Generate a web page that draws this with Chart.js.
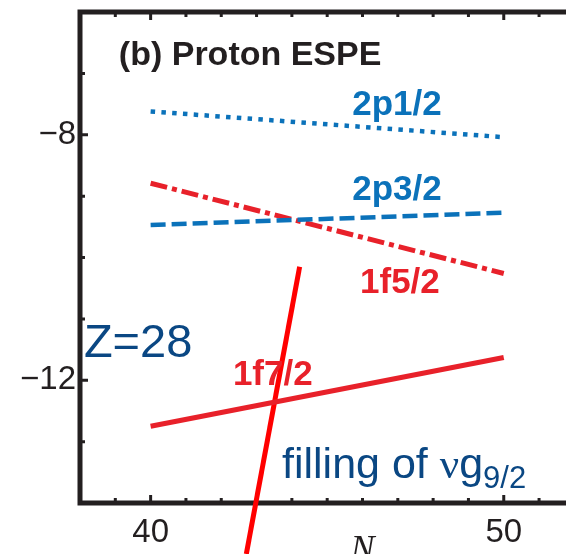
<!DOCTYPE html>
<html><head><meta charset="utf-8">
<script src="https://cdn.jsdelivr.net/npm/chart.js@4.4.1/dist/chart.umd.min.js"></script>
<style>
html,body{margin:0;padding:0;background:#fff;overflow:hidden;}
#wrap{position:relative;width:566px;height:554px;overflow:hidden;background:#fff;}
canvas{display:block;}
</style></head><body>
<div id="wrap"><canvas id="c" width="660" height="600"></canvas></div>
<script>
// ---- data ----
const neutronN   = [40, 50];              // N at the ends of each ESPE line
const espe2p12   = [-7.62, -8.04];        // 2p1/2 (MeV)
const espe2p32   = [-9.47, -9.27];        // 2p3/2
const espe1f52   = [-8.79, -10.26];       // 1f5/2
const espe1f72   = [-12.75, -11.63];      // 1f7/2
const arrowN     = [44.22, 42.71];        // "filling of νg9/2" line, N values
const arrowE     = [-10.15, -14.83];      // "filling of νg9/2" line, energies
const xTickLabels = [40, 50];
const yTickLabels = [-8, -12];
const xRange = [38, 54];
const yRange = [-14, -6];

// ---- styles ----
const BLUE = '#0b72ba', RED = '#e8212a', PURE_RED = '#ff0000', INK = '#231f20', NAVY = '#0a4783';
const SANS = '"Liberation Sans", Arial, Helvetica, sans-serif';
const SERIF = '"Liberation Serif", "Times New Roman", serif';

function pts(xs, ys){ return xs.map((x,i)=>({x:x, y:ys[i]})); }

const textLabels = [
  {text:'(b) Proton ESPE', x:39.1,  y:-6.86,  font:'bold 34px '+SANS, color:INK},
  {text:'2p1/2',           x:45.71, y:-7.68,  font:'bold 35px '+SANS, color:BLUE},
  {text:'2p3/2',           x:45.71, y:-9.06,  font:'bold 35px '+SANS, color:BLUE},
  {text:'1f5/2',           x:45.93, y:-10.58, font:'bold 35px '+SANS, color:RED},
  {text:'1f7/2',           x:42.33, y:-12.08, font:'bold 35px '+SANS, color:RED},
  {text:'Z=28',            x:38.11, y:-11.62, font:'47px '+SANS,      color:NAVY}
];
const fillingLabel = {x:43.72, y:-13.59};

const framePlugin = {
  id:'frame',
  beforeDatasetsDraw(chart){
    const {ctx, chartArea:a, scales:{x, y}} = chart;
    ctx.save();
    ctx.strokeStyle = INK;
    ctx.lineWidth = 5;
    ctx.strokeRect(a.left, a.top, a.right - a.left, a.bottom - a.top);
    ctx.lineWidth = 3;
    ctx.beginPath();
    x.ticks.forEach(t=>{
      const px = x.getPixelForValue(t.value);
      const len = xTickLabels.includes(t.value) ? 8 : 5;
      ctx.moveTo(px, a.bottom); ctx.lineTo(px, a.bottom - len);
      ctx.moveTo(px, a.top);    ctx.lineTo(px, a.top + len);
    });
    y.ticks.forEach(t=>{
      const py = y.getPixelForValue(t.value);
      const len = yTickLabels.includes(t.value) ? 8 : 5;
      ctx.moveTo(a.left, py);  ctx.lineTo(a.left + len, py);
      ctx.moveTo(a.right, py); ctx.lineTo(a.right - len, py);
    });
    ctx.stroke();
    ctx.restore();
  }
};

const textPlugin = {
  id:'texts',
  afterDatasetsDraw(chart){
    const {ctx, scales:{x, y}} = chart;
    ctx.save();
    ctx.textAlign = 'left';
    ctx.textBaseline = 'alphabetic';
    textLabels.forEach(l=>{
      ctx.font = l.font; ctx.fillStyle = l.color;
      ctx.fillText(l.text, x.getPixelForValue(l.x), y.getPixelForValue(l.y));
    });
    // "filling of νg9/2"
    let px = x.getPixelForValue(fillingLabel.x);
    const py = y.getPixelForValue(fillingLabel.y);
    ctx.fillStyle = NAVY;
    ctx.font = '43px ' + SANS;
    ctx.fillText('filling of ', px, py); px += ctx.measureText('filling of ').width;
    ctx.font = '43px ' + SERIF;
    ctx.fillText('\u03BD', px, py); px += ctx.measureText('\u03BD').width;
    ctx.font = '43px ' + SANS;
    ctx.fillText('g', px, py); px += ctx.measureText('g').width;
    ctx.font = '31px ' + SANS;
    ctx.fillText('9/2', px, py + 10);
    ctx.restore();
  }
};

new Chart(document.getElementById('c'), {
  type:'line',
  data:{
    datasets:[
      {label:'2p1/2', data:pts(neutronN, espe2p12), borderColor:BLUE, borderWidth:4.5, borderDash:[4.5,6.3], borderCapStyle:'butt'},
      {label:'2p3/2', data:pts(neutronN, espe2p32), borderColor:BLUE, borderWidth:4.5, borderDash:[15,6]},
      {label:'1f5/2', data:pts(neutronN, espe1f52), borderColor:RED,  borderWidth:5,   borderDash:[17,5,5,5]},
      {label:'1f7/2', data:pts(neutronN, espe1f72), borderColor:RED,  borderWidth:5},
      {label:'filling', data:pts(arrowN, arrowE), borderColor:PURE_RED, borderWidth:5, clip:false}
    ]
  },
  options:{
    responsive:false, animation:false, devicePixelRatio:1,
    layout:{padding:{left:0, top:12, right:15, bottom:0}},
    plugins:{legend:{display:false}, tooltip:{enabled:false}, title:{display:false}},
    elements:{point:{radius:0}, line:{tension:0, fill:false}},
    scales:{
      x:{
        type:'linear', min:xRange[0], max:xRange[1], position:'bottom',
        afterFit(s){ s.height = 97; s.paddingLeft = 0; s.paddingRight = 0; },
        grid:{display:false, drawTicks:false},
        border:{display:false},
        ticks:{stepSize:1, autoSkip:false, maxRotation:0, padding:10, color:INK,
               font:{family:SANS, size:33},
               callback:v=> xTickLabels.includes(v) ? String(v) : ''},
        title:{display:true, text:'N', color:INK, padding:{top:0, bottom:28},
               font:{family:SERIF, size:36, style:'italic'}}
      },
      y:{
        type:'linear', min:yRange[0], max:yRange[1],
        afterFit(s){ s.width = 80; s.paddingTop = 0; s.paddingBottom = 0; },
        grid:{display:false, drawTicks:false},
        border:{display:false},
        ticks:{stepSize:1, autoSkip:false, padding:4, color:INK,
               font:{family:SANS, size:33},
               callback:v=> yTickLabels.includes(v) ? '\u2212' + Math.abs(v) : ''}
      }
    }
  },
  plugins:[framePlugin, textPlugin]
});
</script>
</body></html>
